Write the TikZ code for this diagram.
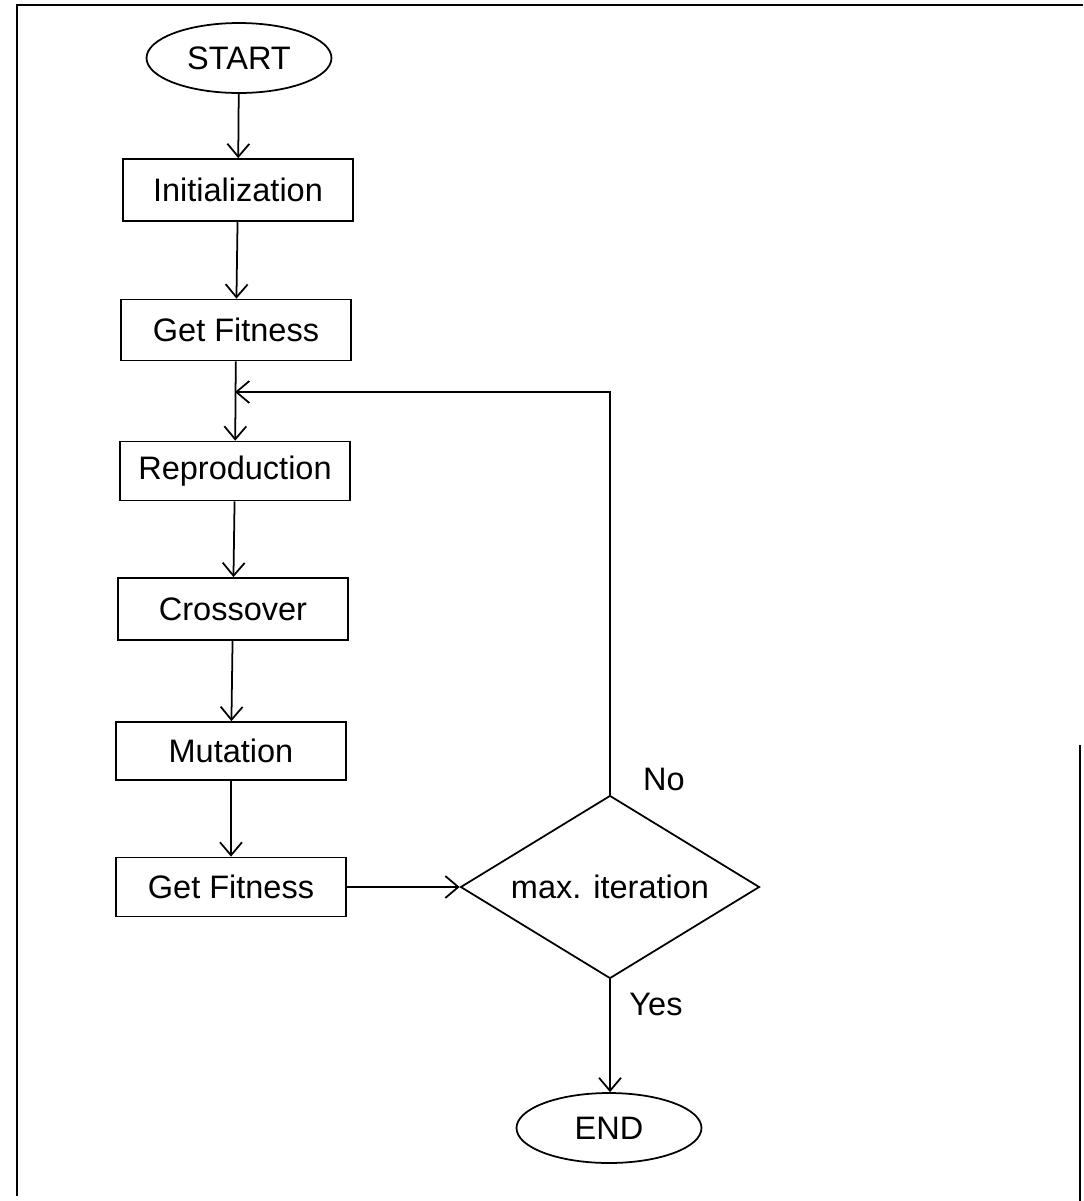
\documentclass[tikz,border=0pt]{standalone}
\usepackage{fontspec}
\setmainfont{Liberation Sans}
\usepackage{tikz}
\usetikzlibrary{arrows.meta,positioning,shapes.geometric}
\tikzset{
  stepbox/.style={draw=black,line width=1pt,minimum width=4.6cm,minimum height=1.2cm,align=center},
  terminal/.style={draw=black,ellipse,line width=1pt,minimum width=3.7cm,minimum height=1.4cm},
  decision/.style={draw=black,diamond,line width=1pt,aspect=1.6,inner sep=0pt,minimum width=5.98cm,minimum height=3.66cm},
  arr/.style={-{Straight Barb[length=2.6mm,width=4.4mm]},draw=black,line width=1pt}
}

\begin{document}
\begin{tikzpicture}[x=0.02cm,y=-0.02cm,font=\fontsize{18.5}{22}\selectfont]
  \useasboundingbox (0,0) rectangle (1083,1201);
  % outer frame
  \draw[line width=1.4pt] (17,1196) -- (17,5) -- (1083,5);
  \draw[line width=1.4pt] (1080,745) -- (1080,1201);

  \node[terminal] (start) at (239,58) {START};
  \node[stepbox,minimum height=1.24cm] (init) at (238,190) {Initialization};
  \node[stepbox,minimum height=1.22cm] (fit1) at (236,330) {Get Fitness};
  \node[stepbox,minimum height=1.18cm] (repro) at (235,471) {Reproduction};
  \node[stepbox,minimum height=1.24cm] (cross) at (233,609) {Crossover};
  \node[stepbox,minimum height=1.16cm] (mut) at (231,751) {Mutation};
  \node[stepbox,minimum height=1.18cm] (fit2) at (231,887) {Get Fitness};
  \node[decision] (check) at (610,887) {max. iteration};
  \node[terminal] (stop) at (609,1128) {END};
  \coordinate (merge) at (235,392);

  \draw[arr] (start) -- (init);
  \draw[arr] (init) -- (fit1);
  \draw[arr] (fit1) -- (repro);
  \draw[arr] (repro) -- (cross);
  \draw[arr] (cross) -- (mut);
  \draw[arr] (mut) -- (fit2);
  \draw[arr] (fit2.east) -- (check.west);
  % back to reproduction
  \draw[arr] (check.north) |- (merge);
  \draw[arr] (check.south) -- (check.south |- stop.north);
  \node (no) at (664,779) {No};
  \node (yes) at (656,1004) {Yes};
\end{tikzpicture}
\end{document}
